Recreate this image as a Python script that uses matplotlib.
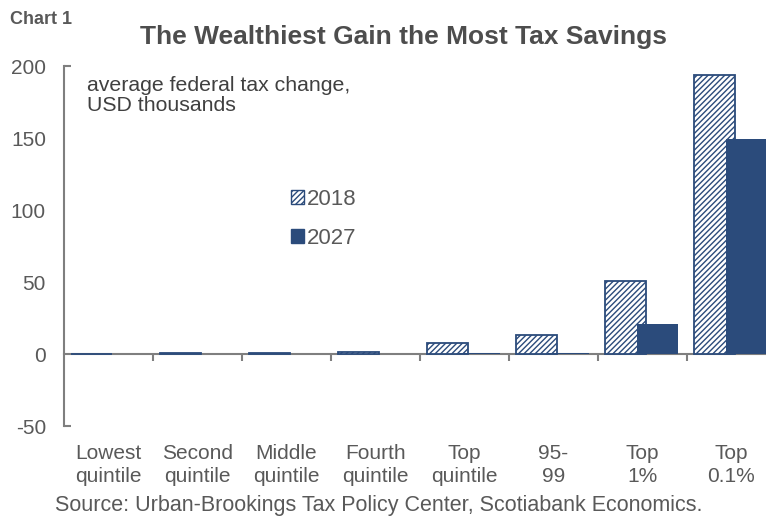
import numpy as np
import matplotlib.pyplot as plt
from matplotlib.patches import Patch
from matplotlib.ticker import FixedLocator

plt.rcParams['font.family'] = ['Liberation Sans', 'DejaVu Sans']
plt.rcParams['hatch.linewidth'] = 1.0
plt.rcParams['axes.unicode_minus'] = False

categories = ['Lowest\nquintile', 'Second\nquintile', 'Middle\nquintile', 'Fourth\nquintile',
              'Top\nquintile', '95-\n99', 'Top\n1%', 'Top\n0.1%']
vals_2018 = [0.2, 0.5, 1.0, 1.6, 7.4, 13.2, 50.9, 194.0]
vals_2027 = [-0.3, -0.2, -0.2, 0.3, 1.0, 0.8, 20.8, 149.0]
yticks = [-50, 0, 50, 100, 150, 200]

blue = '#2b4b7b'
txt = '#595959'
axis_gray = '#7f7f7f'

fig = plt.figure(figsize=(7.66, 5.17), dpi=100)
ax = fig.add_axes([64 / 766, 1 - 426 / 517, 1 - 64 / 766, (426 - 66) / 517])

x = np.arange(len(categories))
w = 0.46
ax.bar(x - 0.19, vals_2018, w, facecolor='white', edgecolor=blue, hatch='//////',
       linewidth=1.3, zorder=2)
ax.bar(x + 0.17, vals_2027, w, color=blue, zorder=3)

ax.set_xlim(-0.5, 7.5 - 10 / 89)
ax.set_ylim(-50, 200)

for s in ['top', 'right', 'bottom']:
    ax.spines[s].set_visible(False)
ax.spines['left'].set_color(axis_gray)
ax.spines['left'].set_linewidth(1.5)

ax.set_yticks(yticks)
ax.yaxis.set_minor_locator(FixedLocator([-50, 200]))
ax.yaxis.remove_overlapping_locs = False
ax.tick_params(axis='y', which='major', length=0, pad=13, labelsize=15, labelcolor=txt)
ax.tick_params(axis='y', which='minor', length=5, direction='in', color=axis_gray, width=1.5)

ax.set_xticks(x)
ax.set_xticklabels(categories)
ax.tick_params(axis='x', length=0, pad=13, labelsize=15, labelcolor=txt)
for lab in ax.get_xticklabels():
    lab.set_linespacing(1.25)

# zero line with category dividers
zero_ax = ax.secondary_xaxis(50 / 250)
zero_ax.spines['bottom'].set_color(axis_gray)
zero_ax.spines['bottom'].set_linewidth(1.5)
zero_ax.set_xticks(x[:-1] + 0.5)
zero_ax.set_xticklabels([])
zero_ax.tick_params(axis='x', length=5, direction='out', color=axis_gray, width=1.5)

ax.text(0.033, 0.972, 'average federal tax change,\nUSD thousands', transform=ax.transAxes,
        ha='left', va='top', fontsize=15.3, color='#404040', linespacing=1.05)

handles = [Patch(facecolor='white', edgecolor=blue, hatch='//////', label='2018'),
           Patch(facecolor=blue, edgecolor=blue, label='2027')]
fig.legend(handles=handles, loc='upper left', bbox_to_anchor=(280 / 766, 1 - 178 / 517),
           frameon=False, fontsize=16, handlelength=0.6, handleheight=0.6,
           handletextpad=0.12, labelspacing=0.8, borderpad=0, labelcolor=txt)

fig.text(10 / 766, 1 - 19 / 517, 'Chart 1', fontsize=13, fontweight='bold', color=txt,
         va='center', ha='left')
fig.text(404 / 766, 1 - 37 / 517, 'The Wealthiest Gain the Most Tax Savings', fontsize=19,
         fontweight='bold', color='#4d4d4d', ha='center', va='center')
fig.text(379 / 766, 1 - 506 / 517, 'Source: Urban-Brookings Tax Policy Center, Scotiabank Economics.',
         fontsize=15.5, color=txt, ha='center', va='center')

fig.savefig('out.png', dpi=100)
